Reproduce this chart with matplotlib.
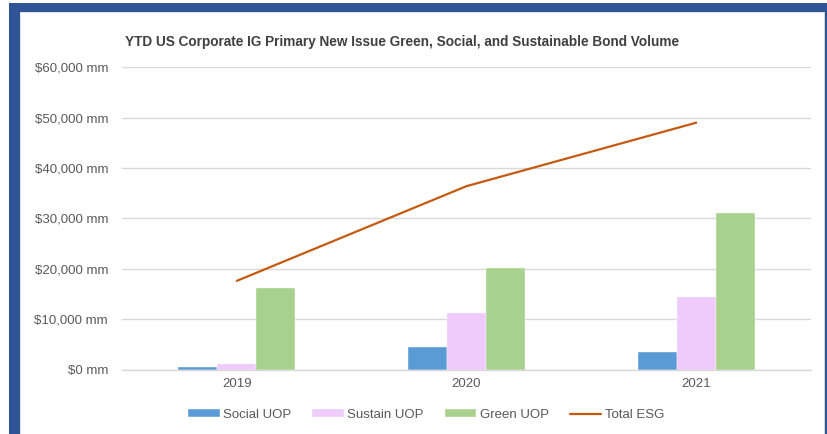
import numpy as np
import matplotlib
matplotlib.use("Agg")
import matplotlib.pyplot as plt
from matplotlib.patches import Rectangle
from matplotlib.ticker import FuncFormatter

plt.rcParams['font.family'] = ['Liberation Sans', 'DejaVu Sans']

years = ["2019", "2020", "2021"]
social = [450, 4400, 3400]
sustain = [1100, 11300, 14300]
green = [16100, 20200, 31000]
total_esg = [17600, 36400, 49000]

series_names = ["Social UOP", "Sustain UOP", "Green UOP", "Total ESG"]
colors = ["#5B9BD5", "#EFCBFB", "#A9D18E", "#C55A11"]

W, H = 828, 434
fig = plt.figure(figsize=(W / 100, H / 100), dpi=100)

# blue frame round the chart
def px_rect(x0, y0, x1, y1, color):
    fig.patches.append(Rectangle((x0 / W, 1 - y1 / H), (x1 - x0) / W, (y1 - y0) / H,
                                 transform=fig.transFigure, facecolor=color,
                                 edgecolor="none", zorder=0))

px_rect(9, 3, 828, 12, "#2F5597")
px_rect(9, 3, 20, 434, "#2F5597")
px_rect(825, 3, 828, 434, "#2F5597")
px_rect(20, 12, 825, 13, "#E3E3E3")
px_rect(20, 12, 21, 434, "#E3E3E3")
px_rect(824, 12, 825, 434, "#D6D6D6")

ax = fig.add_axes([122 / W, 1 - 369.5 / H, (811 - 122) / W, (369.5 - 67.3) / H])
ax.set_facecolor("none")

x = np.arange(len(years))
bw = 0.17
h_social = ax.bar(x - bw, social, bw, color=colors[0], edgecolor="#F4F8FC", linewidth=0.3,
                  label=series_names[0], zorder=2)
h_sustain = ax.bar(x, sustain, bw, color=colors[1], edgecolor="#F4F8FC", linewidth=0.3,
                   label=series_names[1], zorder=2)
h_green = ax.bar(x + bw, green, bw, color=colors[2], edgecolor="#F4F8FC", linewidth=0.3,
                 label=series_names[2], zorder=2)
h_total, = ax.plot(x, total_esg, color=colors[3], linewidth=1.6, label=series_names[3], zorder=3,
                   solid_capstyle="round")

ax.set_xlim(-0.5, 2.5)
ax.set_ylim(0, 60000)
ax.set_yticks(np.arange(0, 60001, 10000))
ax.yaxis.set_major_formatter(FuncFormatter(lambda v, p: "${:,.0f} mm".format(v)))
ax.set_xticks(x)
ax.set_xticklabels(years)
ax.grid(axis="y", color="#D9D9D9", linewidth=1.0, zorder=0)
ax.set_axisbelow(True)
for s in ["top", "right", "left"]:
    ax.spines[s].set_visible(False)
ax.spines["bottom"].set_color("#D9D9D9")
ax.spines["bottom"].set_linewidth(1.0)
ax.tick_params(axis="y", length=0, pad=10, labelsize=9.5, labelcolor="#595959")
ax.tick_params(axis="x", length=0, pad=6, labelsize=9.5, labelcolor="#595959")

fig.text(402 / W, 1 - 42 / H,
         "YTD US Corporate IG Primary New Issue Green, Social, and Sustainable Bond Volume",
         ha="center", va="center", fontsize=9.8, fontweight="bold", color="#404040")

ax.legend([h_social, h_sustain, h_green, h_total], series_names,
          loc="center", bbox_to_anchor=(426 / W, 1 - 415 / H), bbox_transform=fig.transFigure,
          ncol=4, frameon=False, fontsize=9.5, labelcolor="#595959",
          handlelength=2.4, handleheight=0.55, handletextpad=0.25, columnspacing=1.6)

fig.savefig("out.png", dpi=100)
